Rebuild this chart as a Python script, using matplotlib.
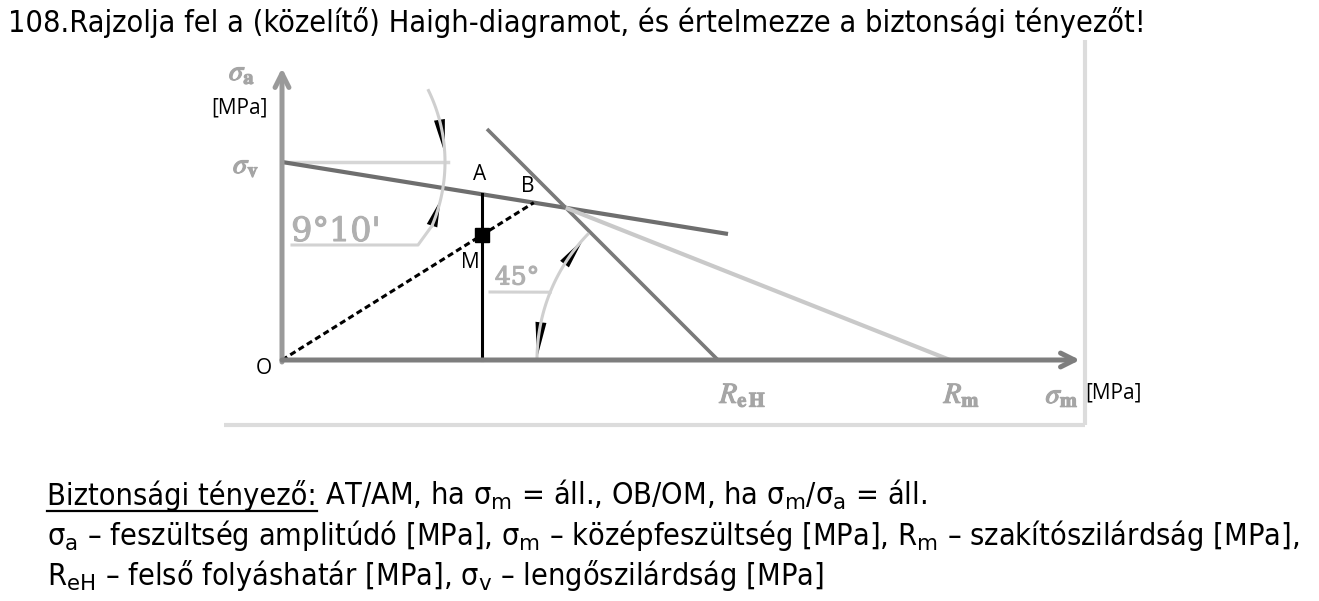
import numpy as np
import matplotlib
matplotlib.use("Agg")
import matplotlib.pyplot as plt
import matplotlib.patheffects as pe
from matplotlib import font_manager

# Diagram values (sigma_m / sigma_a, MPa-like units, origin at O)
sigma_v = 198
R_eH = 436
R_m = 668
slope_deg = 9 + 10 / 60          # 9°10'
sigma_m_A = 200                  # sigma_m of the working point M
sigma_a_M = 125                  # sigma_a of the working point M
sv_line_end = 446                # where the sigma_v line stops
reh_line_start = 205             # upper end of the 45° line (sigma_m)
x_axis_end = 798
y_axis_end = 292
frame_right = 803
frame_bottom = -65
frame_left = -58
frame_top = 320

title = "108.Rajzolja fel a (közelítő) Haigh-diagramot, és értelmezze a biztonsági tényezőt!"
line1_head = "Biztonsági tényező:"
line1_rest = " AT/AM, ha σ$_\\mathrm{m}$ = áll., OB/OM, ha σ$_\\mathrm{m}$/σ$_\\mathrm{a}$ = áll."
line2 = ("σ$_\\mathrm{a}$ – feszültség amplitúdó [MPa], σ$_\\mathrm{m}$ – középfeszültség [MPa], "
         "R$_\\mathrm{m}$ – szakítószilárdság [MPa],")
line3 = "R$_\\mathrm{eH}$ – felső folyáshatár [MPa], σ$_\\mathrm{v}$ – lengőszilárdság [MPa]"

# pick a narrow sans if there is one
avail = font_manager.fontManager.ttflist
names = {f.name for f in avail}
if "Liberation Sans Narrow" in names:
    txt = dict(family="Liberation Sans Narrow")
    body_font = "Liberation Sans Narrow"
elif any(f.name == "DejaVu Sans" and str(f.stretch) in ("condensed", "semi-condensed") for f in avail):
    txt = dict(family="DejaVu Sans", fontstretch="condensed")
    body_font = "DejaVu Sans"
else:
    txt = dict(family="DejaVu Sans")
    body_font = "DejaVu Sans"
plt.rcParams["mathtext.fontset"] = "custom"
plt.rcParams["mathtext.rm"] = body_font

W, H = 1319, 601
fig = plt.figure(figsize=(W / 100, H / 100), dpi=100)
fig.patch.set_facecolor("white")
ax = fig.add_axes([0, 0, 1, 1])
ax.set_xlim(-282, W - 282)
ax.set_ylim(-(H - 360), 360)
ax.axis("off")

tan_s = np.tan(np.radians(slope_deg))

# picture frame (light grey)
ax.plot([frame_right, frame_right], [frame_top, frame_bottom], color="#dcdcdc", lw=3, solid_capstyle="butt")
ax.plot([frame_left, frame_right], [frame_bottom, frame_bottom], color="#dcdcdc", lw=3, solid_capstyle="butt")

# axes with arrows
ax.annotate("", xy=(0, y_axis_end), xytext=(0, -2),
            arrowprops=dict(arrowstyle="->,head_length=1.0,head_width=0.5", color="#9a9a9a",
                            lw=3.6, shrinkA=0, shrinkB=0))
ax.annotate("", xy=(x_axis_end, 0), xytext=(0, 0),
            arrowprops=dict(arrowstyle="->,head_length=1.0,head_width=0.5", color="#7e7e7e",
                            lw=3.6, shrinkA=0, shrinkB=0))

# horizontal reference at sigma_v
ax.plot([0, 166], [sigma_v, sigma_v], color="#d6d6d6", lw=2.5)

# fatigue line from sigma_v with 9°10' slope
xs = np.array([0, sv_line_end])
ax.plot(xs, sigma_v - tan_s * xs, color="#6e6e6e", lw=3.0, solid_capstyle="butt")

# 45° yield line to ReH
xr = np.array([reh_line_start, R_eH])
ax.plot(xr, R_eH - xr, color="#7a7a7a", lw=2.6, solid_capstyle="butt")

# intersection -> Rm (light line)
xi = (R_eH - sigma_v) / (1 - tan_s)
yi = R_eH - xi
ax.plot([xi, R_m], [yi, 0], color="#c9c9c9", lw=3.0, solid_capstyle="butt")

# A: constant sigma_m
yA = sigma_v - tan_s * sigma_m_A
ax.plot([sigma_m_A, sigma_m_A], [0, yA], color="black", lw=2.2)

# B: constant ratio, through M
k = sigma_a_M / sigma_m_A
xB = sigma_v / (k + tan_s)
ax.plot([0, xB], [0, k * xB], color="black", lw=2.2, linestyle=(0, (2.0, 1.2)))
ax.plot([sigma_m_A], [sigma_a_M], marker="s", color="black", markersize=10)


def arc(cx, cy, r, a0, a1, **kw):
    t = np.radians(np.linspace(a0, a1, 60))
    ax.plot(cx + r * np.cos(t), cy + r * np.sin(t), **kw)


def wedge(cx, cy, r, a_tip, a_tail, width=5.5):
    tip = np.array([cx + r * np.cos(np.radians(a_tip)), cy + r * np.sin(np.radians(a_tip))])
    tail = np.array([cx + r * np.cos(np.radians(a_tail)), cy + r * np.sin(np.radians(a_tail))])
    d = tip - tail
    n = np.array([-d[1], d[0]]) / np.hypot(*d) * width
    ax.fill([tip[0], tail[0] + n[0], tail[0] - n[0]], [tip[1], tail[1] + n[1], tail[1] - n[1]],
            color="black", lw=0)


# 9°10' dimension
r1 = 163
arc(0, sigma_v, r1, 26, -23, color="#cfcfcf", lw=2.2)
wedge(0, sigma_v, r1, 3, 15)
wedge(0, sigma_v, r1, -13.5, -23)
end = (r1 * np.cos(np.radians(-23)), sigma_v + r1 * np.sin(np.radians(-23)))
ax.plot([10, 136, end[0]], [115, 115, end[1]], color="#d2d2d2", lw=2.2)
ax.text(54, 128, "9°10'", family="DejaVu Serif", fontsize=24, color="#b0b0b0", ha="center", va="center",
        path_effects=[pe.withStroke(linewidth=0.8, foreground="#b0b0b0")])

# 45° dimension
r2 = 181
arc(R_eH, 0, r2, 136, 180, color="#cfcfcf", lw=2.2)
wedge(R_eH, 0, r2, 138, 148)
wedge(R_eH, 0, r2, 179.5, 168)
p = (R_eH + r2 * np.cos(np.radians(158)), r2 * np.sin(np.radians(158)))
ax.plot([208, p[0]], [68, p[1]], color="#d2d2d2", lw=2.2)
ax.text(235, 82, "45°", family="DejaVu Serif", fontsize=18, color="#b0b0b0", ha="center", va="center",
        path_effects=[pe.withStroke(linewidth=0.8, foreground="#b0b0b0")])

# point labels
lab = dict(family="Open Sans", fontsize=15, color="black", ha="center", va="center")
ax.text(sigma_m_A - 2, 186, "A", **lab)
ax.text(xB - 6, 173, "B", **lab)
ax.text(sigma_m_A - 12, 98, "M", **lab)
ax.text(-18, -8, "O", **lab)
ax.text(-43, 252, "[MPa]", **lab)
ax.text(831, -33, "[MPa]", **lab)

# axis symbols (grey, serif)
sym = dict(fontsize=21, color="#a5a5a5", ha="center", va="center", math_fontfamily="stix",
           path_effects=[pe.withStroke(linewidth=0.8, foreground="#a5a5a5")])
ax.text(-40, 288, r"$\sigma_{\mathbf{a}}$", **sym)
ax.text(-36, 195, r"$\sigma_{\mathbf{v}}$", **sym)
ax.text(780, -35, r"$\sigma_{\mathbf{m}}$", **sym)
ax.text(R_eH + 25, -35, r"$\mathit{R}_{\mathbf{e}\,\mathbf{H}}$", **sym)
ax.text(R_m + 12, -35, r"$\mathit{R}_{\mathbf{m}}$", **sym)

# title and explanation text
fig.text(8 / W, 1 - 22 / H, title, fontsize=22, color="black", ha="left", va="center", **txt)

renderer = fig.canvas.get_renderer()
y1 = 1 - 505 / H
t1 = fig.text(47 / W, y1, line1_head, fontsize=22, color="black", ha="left", va="baseline", **txt)
bb = t1.get_window_extent(renderer)
fig.add_artist(plt.Line2D([bb.x0 / W, bb.x1 / W], [y1 - 6 / H, y1 - 6 / H], color="black", lw=1.6))
fig.text(bb.x1 / W, y1, line1_rest, fontsize=22, color="black", ha="left", va="baseline", **txt)
fig.text(47 / W, 1 - 545 / H, line2, fontsize=22, color="black", ha="left", va="baseline", **txt)
fig.text(47 / W, 1 - 585 / H, line3, fontsize=22, color="black", ha="left", va="baseline", **txt)

fig.savefig("out.png", dpi=100, facecolor="white")
